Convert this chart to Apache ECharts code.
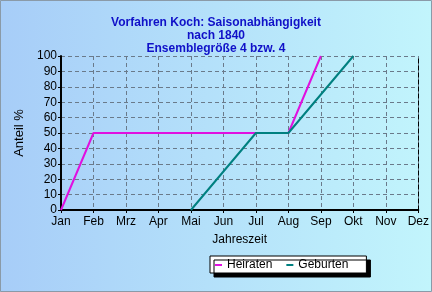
<!DOCTYPE html>
<html><head><meta charset="utf-8">
<script src="https://cdn.jsdelivr.net/npm/echarts@6/dist/echarts.min.js"></script>
<style>html,body{margin:0;padding:0;}#c{width:432px;height:292px;}</style>
</head><body><div id="c"></div>
<script>
var months = ['Jan','Feb','Mrz','Apr','Mai','Jun','Jul','Aug','Sep','Okt','Nov','Dez'];
var heiraten = [0,50,50,50,50,50,50,50,100,null,null,null];
var geburten = [null,null,null,null,0,25,50,50,75,100,null,null];
var yTicks = [0,10,20,30,40,50,60,70,80,90,100];

var chart = echarts.init(document.getElementById('c'), null, {renderer:'canvas'});
var font = 'Liberation Sans, Arial, sans-serif';
chart.setOption({
  animation:false,
  backgroundColor: new echarts.graphic.LinearGradient(0,0,1,0,[{offset:0,color:'#a7cdf8'},{offset:1,color:'#c2f5fc'}]),
  title:{
    text:'Vorfahren Koch: Saisonabhängigkeit\nnach 1840\nEnsemblegröße 4 bzw. 4',
    left:'center', top:11,
    textStyle:{fontFamily:font,fontSize:12,fontWeight:'bold',color:'#1010c8',lineHeight:13}
  },
  grid:{left:61,right:13,top:56,bottom:82},
  legend:{
    left:210, top:256,
    itemWidth:7, itemHeight:2, itemGap:14,
    icon:'rect',
    backgroundColor:'#ffffff', borderColor:'#000', borderWidth:1, borderRadius:0,
    padding:[3,18,2,5],
    shadowColor:'#000', shadowOffsetX:4, shadowOffsetY:4, shadowBlur:0,
    lineStyle:{opacity:0},
    textStyle:{fontFamily:font,fontSize:12,color:'#000'},
    data:[{name:'Heiraten',icon:'rect'},{name:'Geburten',icon:'rect'}]
  },
  xAxis:[{
    type:'category', data:months, boundaryGap:false,
    name:'Jahreszeit', nameLocation:'middle', nameGap:24,
    nameTextStyle:{fontFamily:font,fontSize:12,color:'#000'},
    axisLine:{lineStyle:{color:'#000',width:2}},
    axisTick:{show:true,length:3,lineStyle:{color:'#000'}},
    axisLabel:{fontFamily:font,fontSize:12,color:'#000',margin:6,interval:0},
    splitLine:{show:true,lineStyle:{color:'#6a7a8a',type:[4,3],width:1}}
  },{
    type:'category', data:months, boundaryGap:false, position:'top',
    axisLine:{show:true,lineStyle:{color:'#000',width:1,type:[4,3]}},
    axisTick:{show:false}, axisLabel:{show:false}, splitLine:{show:false}
  }],
  yAxis:[{
    type:'value', min:0, max:100, interval:10,
    name:'Anteil %', nameLocation:'middle', nameGap:27, nameRotate:90,
    nameTextStyle:{fontFamily:font,fontSize:13,color:'#000'},
    axisLine:{show:true,lineStyle:{color:'#000',width:2}},
    axisTick:{show:true,length:3,lineStyle:{color:'#000'}},
    axisLabel:{fontFamily:font,fontSize:12,color:'#000',margin:4,
      formatter:function(v){return yTicks.indexOf(v)>=0?String(v):'';}},
    splitLine:{show:true,lineStyle:{color:'#6a7a8a',type:[4,3],width:1}}
  },{
    type:'value', min:0, max:100, interval:10, position:'right',
    axisLine:{show:true,lineStyle:{color:'#000',width:1,type:[4,3]}},
    axisTick:{show:false}, axisLabel:{show:false}, splitLine:{show:false}
  }],
  series:[
    {name:'Heiraten',type:'line',data:heiraten,showSymbol:false,symbol:'none',
     lineStyle:{color:'#e010e0',width:2},itemStyle:{color:'#e010e0'},connectNulls:false},
    {name:'Geburten',type:'line',data:geburten,showSymbol:false,symbol:'none',
     lineStyle:{color:'#008080',width:2},itemStyle:{color:'#008080'},connectNulls:false}
  ],
  graphic:[{type:'rect',shape:{x:0.5,y:0.5,width:431,height:291},
    style:{fill:null,stroke:'#8a9aa8',lineWidth:1},silent:true}]
});
</script></body></html>
